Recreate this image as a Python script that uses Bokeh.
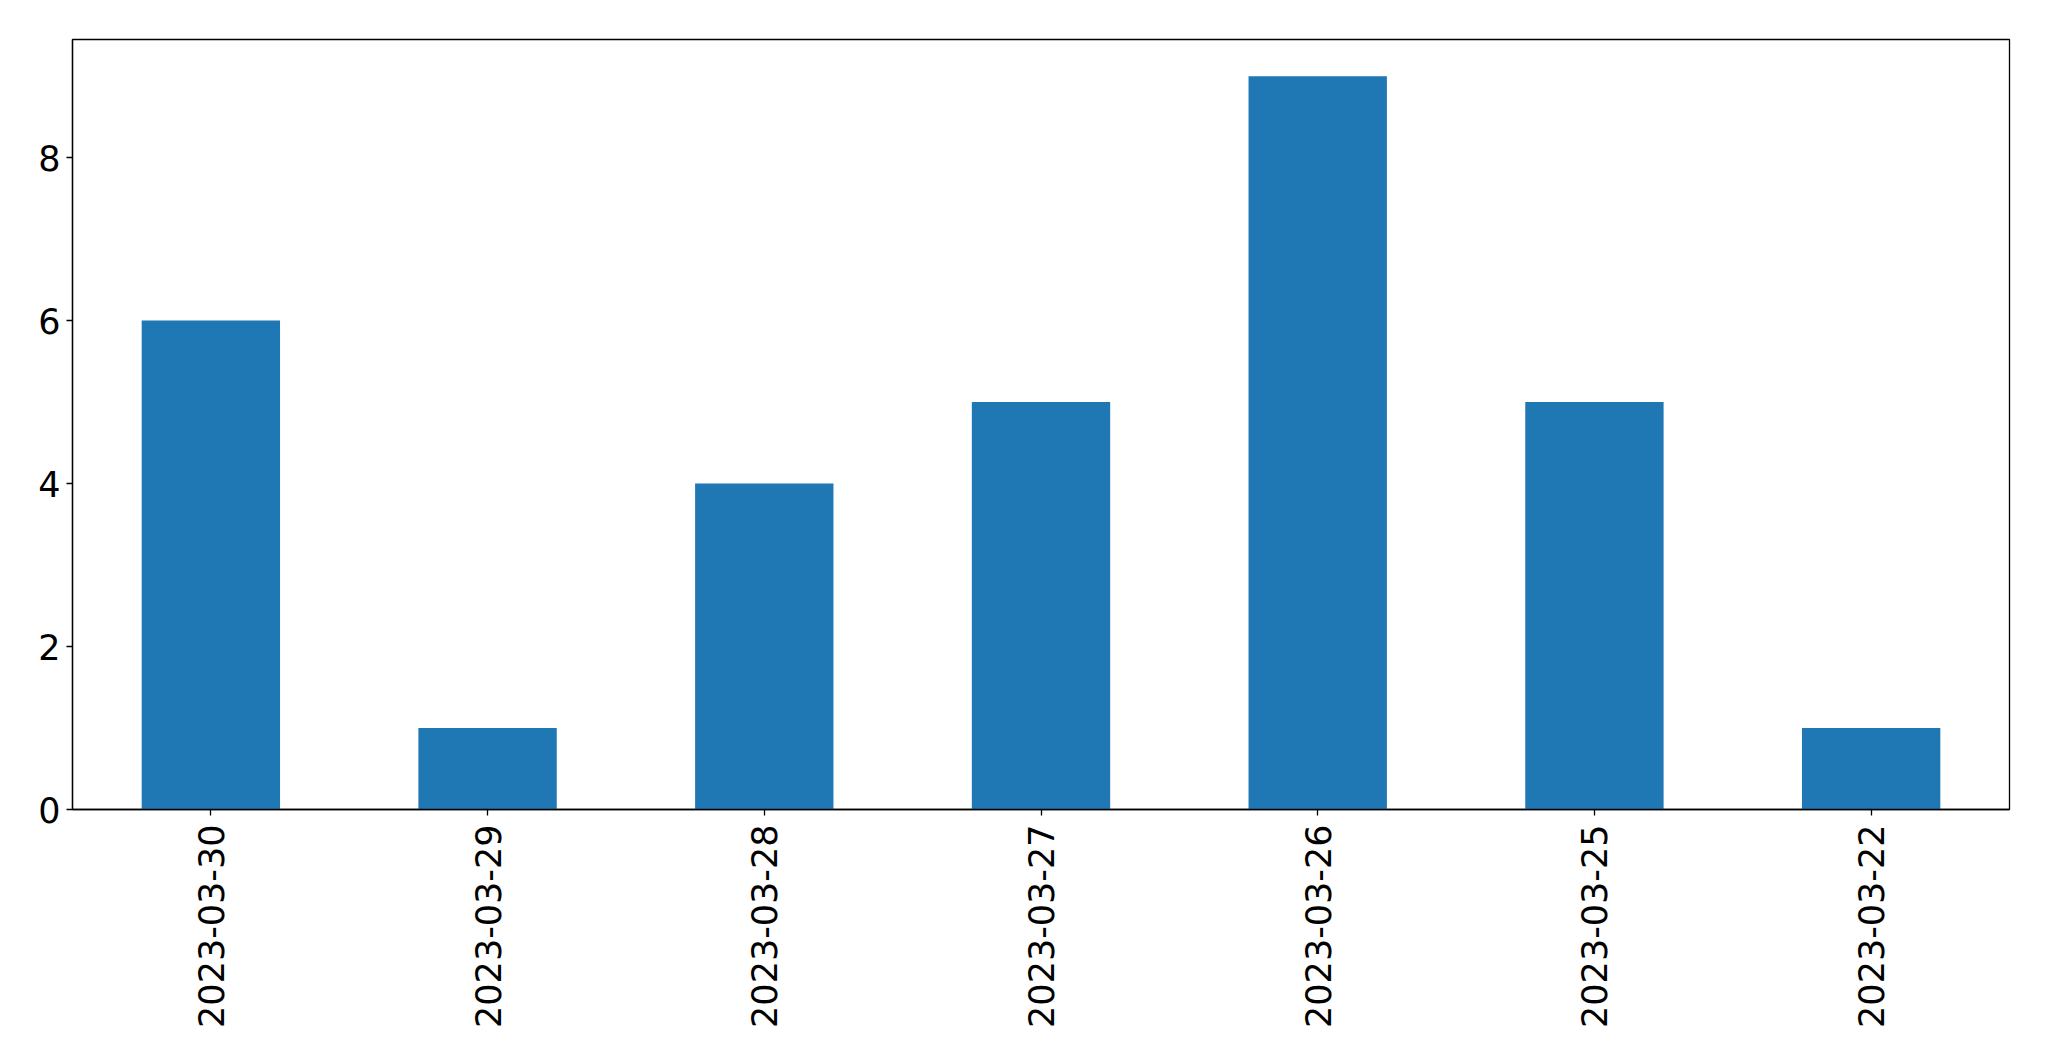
from bokeh.plotting import figure
from bokeh.models import FactorRange, Range1d, FixedTicker, ColumnDataSource
from bokeh.embed import file_html
from bokeh.resources import INLINE
import math

dates = ["2023-03-30", "2023-03-29", "2023-03-28", "2023-03-27", "2023-03-26", "2023-03-25", "2023-03-22"]
counts = [6, 1, 4, 5, 9, 5, 1]
y_ticks = [0, 2, 4, 6, 8]

src = ColumnDataSource(dict(x=dates, top=counts))

p = figure(
    x_range=FactorRange(factors=dates, range_padding=0),
    y_range=Range1d(0, 9.45),
    frame_width=1937, frame_height=770,
    min_border_left=72, min_border_top=39, min_border_right=28, min_border_bottom=220,
    output_backend="svg", toolbar_location=None,
)
p.vbar(x="x", top="top", width=0.5, source=src, color="#1f77b4", line_color=None)

p.xgrid.visible = False
p.ygrid.visible = False
p.outline_line_color = "black"
p.outline_line_alpha = 1
p.outline_line_width = 1.3
p.background_fill_color = "white"
p.border_fill_color = "white"

p.yaxis.ticker = FixedTicker(ticks=y_ticks)
for ax in (p.xaxis[0], p.yaxis[0]):
    ax.axis_line_color = "black"
    ax.axis_line_width = 1.3
    ax.major_tick_line_color = "black"
    ax.major_tick_line_width = 1.3
    ax.major_tick_in = 0
    ax.major_tick_out = 6
    ax.minor_tick_line_color = None
    ax.major_label_text_font = "DejaVu Sans"
    ax.major_label_text_font_size = "35px"
    ax.major_label_text_color = "black"

p.yaxis.major_label_standoff = 6
p.xaxis.major_label_standoff = 9
p.xaxis.major_label_orientation = math.pi / 2
p.xaxis.group_text_font_size = "0px"

open("out.html", "w").write(file_html(p, INLINE))
